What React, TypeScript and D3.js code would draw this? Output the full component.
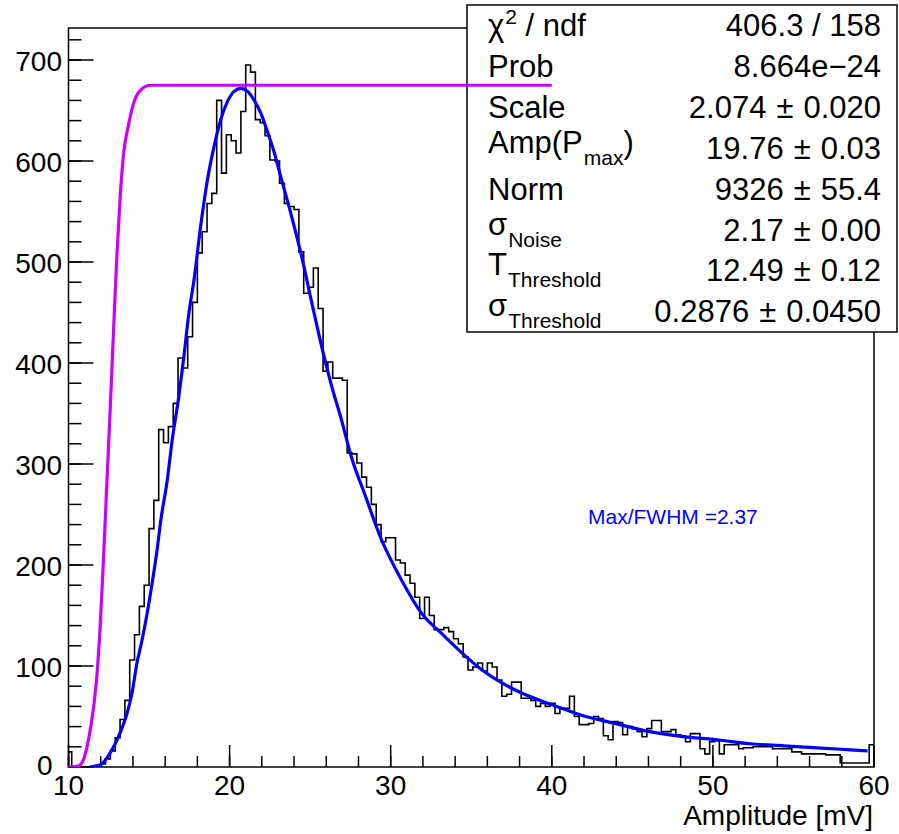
import React from "react";
import * as d3 from "d3";

// ---- Histogram (0.3 mV bins starting at 9.9 mV) ----
const histStart = 9.9;
const binWidth = 0.3;
const histCounts = [
  15, 0, 0, 0, 0, 0, 1, 3, 8, 16,
  29, 47, 66, 106, 131, 159, 180, 236, 264, 334,
  321, 337, 360, 405, 395, 426, 460, 509, 530, 558,
  568, 660, 588, 626, 620, 608, 649, 695, 688, 641,
  638, 625, 601, 600, 578, 558, 555, 552, 510, 469,
  475, 494, 454, 392, 401, 385, 385, 383, 311, 310,
  301, 287, 277, 260, 240, 223, 227, 227, 205, 202,
  190, 182, 168, 147, 168, 150, 136, 136, 138, 134,
  127, 122, 109, 96, 99, 103, 95, 103, 99, 86,
  70, 72, 84, 84, 68, 68, 66, 60, 63, 60,
  63, 53, 58, 58, 70, 50, 42, 42, 43, 50,
  48, 31, 27, 45, 44, 32, 40, 38, 35, 30,
  38, 46, 46, 35, 35, 37, 32, 31, 25, 33,
  33, 18, 13, 25, 26, 13, 22, 22, 22, 18,
  19, 19, 20, 20, 20, 20, 18, 18, 18, 18,
  15, 15, 13, 13, 13, 13, 13, 12, 12, 12,
  4, 4, 4, 4, 4, 4, 22,
];

// ---- Fit curve (blue) ----
const fitX = [
  11.3, 11.96, 12.59, 13.21, 13.63, 13.94, 14.25, 14.57, 14.88, 15.19, 15.5, 15.71,
  16.13, 16.44, 16.85, 17.16, 17.47, 17.79, 18.2, 18.62, 19.03, 19.45, 19.87, 20.28,
  20.7, 21.12, 21.53, 21.95, 22.37, 22.78, 23.2, 23.82, 24.45, 25.07, 25.69, 26.32,
  26.94, 27.56, 28.39, 29.43, 30.68, 31.93, 33.17, 34.42, 35.67, 36.92, 38.17, 39.41,
  40.66, 41.9, 43.98, 46.07, 48.15, 50.23, 52.31, 54.39, 56.47, 58.55, 59.6,
];
const fitY = [
  0, 2, 14, 34, 53, 73, 103, 126, 152, 182, 215, 242,
  284, 324, 367, 406, 449, 482, 535, 581, 614, 641, 659, 669,
  672, 669, 660, 647, 628, 608, 583, 547, 507, 462, 418, 378,
  344, 307, 270, 225, 185, 152, 132, 113, 96, 83, 73, 65,
  58, 51, 43, 35, 30, 27, 23, 21, 19, 17, 16,
];

// ---- Threshold curve (magenta) ----
const thrX = [10, 10.6, 10.9, 11.24, 11.55, 11.76, 11.97, 12.17, 12.38, 12.59, 12.79, 13.0, 13.21, 13.42, 13.73, 14.04, 14.46, 15.08, 40];
const thrY = [0, 1, 6, 27, 58, 90, 140, 205, 280, 355, 430, 505, 565, 607, 636, 657, 670, 675, 675];

// ---- Axes ----
const xMajorTicks = [10, 20, 30, 40, 50, 60];
const xMinorTicks = d3.range(10, 60.01, 2);
const yMajorTicks = [0, 100, 200, 300, 400, 500, 600, 700];
const yMinorTicks = d3.range(0, 721, 20);
const xTitle = "Amplitude [mV]";
const annotation = "Max/FWHM =2.37";

// ---- Stats box ----
const statLabels = [
  { main: "χ", sup: "2", rest: " / ndf" },
  { main: "Prob" },
  { main: "Scale" },
  { main: "Amp(P", sub: "max", rest: ")" },
  { main: "Norm" },
  { main: "σ", sub: "Noise" },
  { main: "T", sub: "Threshold" },
  { main: "σ", sub: "Threshold" },
];
const statCentral = ["406.3 / 158", "8.664e−24", "2.074", "19.76", "9326", "2.17", "12.49", "0.2876"];
const statErrors = [null, null, "0.020", "0.03", "55.4", "0.00", "0.12", "0.0450"];

const FONT = "'Liberation Sans', Arial, Helvetica, sans-serif";

export default function App() {
  const W = 899, H = 834;
  const left = 68.5, right = 874, top = 28, bottom = 767;
  const x = d3.scaleLinear().domain([10, 60]).range([left, right]);
  const y = d3.scaleLinear().domain([0, 731.7]).range([bottom, top]);

  // histogram step path
  const pts: [number, number][] = [];
  pts.push([Math.max(10, histStart), 0]);
  histCounts.forEach((c, i) => {
    const lo = Math.max(10, histStart + i * binWidth);
    const hi = Math.min(60, histStart + (i + 1) * binWidth);
    pts.push([lo, c]);
    pts.push([hi, c]);
  });
  pts.push([60, 0]);
  const stepLine = d3.line<[number, number]>().x((d) => x(d[0])).y((d) => y(d[1]));
  const histPath = stepLine(pts) || "";

  const fitPath =
    d3
      .line<number>()
      .x((d, i) => x(fitX[i]))
      .y((d) => y(d))
      .curve(d3.curveMonotoneX)(fitY) || "";
  const thrPath =
    d3
      .line<number>()
      .x((d, i) => x(thrX[i]))
      .y((d) => y(d))
      .curve(d3.curveMonotoneX)(thrY) || "";

  const boxX = 467, boxY = 5, boxW = 430, boxH = 327;
  const rowBase = 36, rowStep = 40.9;
  const SF = 31;

  return (
    <svg
      width={W}
      height={H}
      style={{ position: "absolute", left: 0, top: 0, background: "#fff" }}
      fontFamily={FONT}
    >
      <defs>
        <clipPath id="plot">
          <rect x={left} y={top} width={right - left} height={bottom - top} />
        </clipPath>
      </defs>
      <rect x={0} y={0} width={W} height={H} fill="#fff" />

      {/* frame */}
      <rect x={left} y={top} width={right - left} height={bottom - top} fill="none" stroke="#000" strokeWidth={1.5} />

      {/* y ticks */}
      {yMinorTicks.map((v) => (
        <line key={"ym" + v} x1={left} x2={left + 13} y1={y(v)} y2={y(v)} stroke="#000" strokeWidth={1.5} />
      ))}
      {yMajorTicks.map((v) => (
        <g key={"yM" + v}>
          <line x1={left} x2={left + 25} y1={y(v)} y2={y(v)} stroke="#000" strokeWidth={1.5} />
          <text x={v === 0 ? 52.5 : 62} y={v === 0 ? 775 : y(v) + 10.5} textAnchor="end" fontSize={28} fill="#000">
            {v}
          </text>
        </g>
      ))}

      {/* x ticks */}
      {xMinorTicks.map((v) => (
        <line key={"xm" + v} x1={x(v)} x2={x(v)} y1={bottom} y2={bottom - 11} stroke="#000" strokeWidth={1.5} />
      ))}
      {xMajorTicks.map((v) => (
        <g key={"xM" + v}>
          <line x1={x(v)} x2={x(v)} y1={bottom} y2={bottom - 22} stroke="#000" strokeWidth={1.5} />
          <text x={x(v)} y={795} textAnchor="middle" fontSize={28} fill="#000">
            {v}
          </text>
        </g>
      ))}
      <text x={873} y={825} textAnchor="end" fontSize={28} fill="#000">
        {xTitle}
      </text>

      <g clipPath="url(#plot)">
        <path d={histPath} fill="none" stroke="#000" strokeWidth={1.6} />
        <path d={fitPath} fill="none" stroke="#0000ff" strokeWidth={3.2} />
      </g>

      <text x={588} y={524} fontSize={21} fill="#0000ff">
        {annotation}
      </text>

      {/* stats box */}
      <rect x={boxX} y={boxY} width={boxW} height={boxH} fill="#fff" stroke="#000" strokeWidth={1.5} />
      {statLabels.map((lab, i) => {
        const b = rowBase + i * rowStep;
        if (lab.sup) {
          return (
            <text key={"sl" + i} x={488} y={b} fontSize={SF} fill="#000">
              {lab.main}
              <tspan fontSize={21} dy={-12} dx={1}>
                {lab.sup}
              </tspan>
              <tspan dy={12}>{lab.rest}</tspan>
            </text>
          );
        }
        if (lab.sub) {
          return (
            <text key={"sl" + i} x={488} y={b - 6} fontSize={SF} fill="#000">
              {lab.main}
              <tspan fontSize={21} dy={12} dx={1}>
                {lab.sub}
              </tspan>
              {lab.rest ? <tspan dy={-12}>{lab.rest}</tspan> : null}
            </text>
          );
        }
        return (
          <text key={"sl" + i} x={488} y={b} fontSize={SF} fill="#000">
            {lab.main}
          </text>
        );
      })}
      {statCentral.map((c, i) => {
        const b = rowBase + i * rowStep;
        const e = statErrors[i];
        return (
          <text key={"sv" + i} x={881} y={b} textAnchor="end" fontSize={SF} fill="#000">
            {e ? (
              <>
                <tspan>{c}</tspan>
                <tspan dx={10}>±</tspan>
                <tspan dx={10}>{e}</tspan>
              </>
            ) : (
              c
            )}
          </text>
        );
      })}

      {/* threshold curve drawn on top of the stats box, as in the reference */}
      <g clipPath="url(#plot)">
        <path d={thrPath} fill="none" stroke="#cc00ff" strokeWidth={3.2} />
      </g>
    </svg>
  );
}
